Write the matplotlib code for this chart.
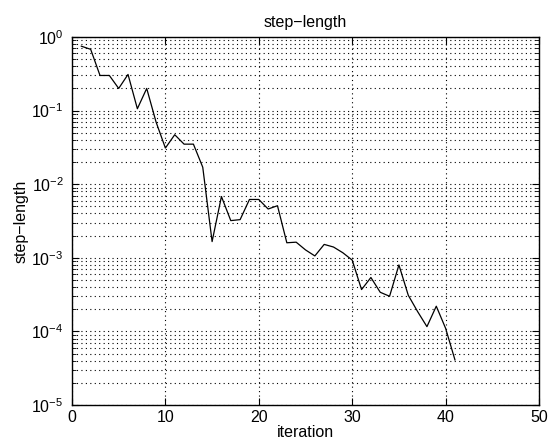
import matplotlib
matplotlib.use("Agg")
import matplotlib.pyplot as plt
from matplotlib.ticker import LogLocator, NullFormatter

iteration = list(range(1, 42))
step_length = [0.75, 0.68, 0.30, 0.30, 0.20, 0.31, 0.106, 0.20, 0.07, 0.031,
               0.047, 0.035, 0.035, 0.017, 0.00166, 0.0068, 0.0032, 0.0033, 0.0062, 0.0062,
               0.0046, 0.0051, 0.0016, 0.00163, 0.00128, 0.00106, 0.00152, 0.0014, 0.00117, 0.00093,
               0.00037, 0.00054, 0.00034, 0.00030, 0.00080, 0.00031, 0.000186, 0.000116, 0.00022, 0.00011,
               0.000041]
xticks = [0, 10, 20, 30, 40, 50]

plt.rcParams['font.family'] = ['Liberation Sans', 'DejaVu Sans']
plt.rcParams['mathtext.fontset'] = 'custom'
plt.rcParams['mathtext.rm'] = 'Liberation Sans'

fig = plt.figure(figsize=(5.58, 4.43), dpi=100)
ax = fig.add_axes([0.129, 0.0858, 0.837, 0.8307])
ax.plot(iteration, step_length, color='black', lw=0.9)
ax.set_yscale('log')
ax.set_xlim(0, 50)
ax.set_ylim(1e-5, 1)
ax.set_xticks(xticks)
ax.yaxis.set_major_locator(LogLocator(base=10, numticks=10))
ax.yaxis.set_minor_locator(LogLocator(base=10, subs=range(2, 10), numticks=20))
ax.yaxis.set_minor_formatter(NullFormatter())

dot = (0, (1, 3))
ax.grid(True, which='major', axis='both', color='black', linestyle=dot, lw=0.8)
ax.grid(True, which='minor', axis='y', color='black', linestyle=dot, lw=0.8)

ax.tick_params(which='both', direction='in', top=True, right=True, labelsize=11.5)
ax.tick_params(axis='y', which='major', pad=6)
ax.tick_params(which='major', length=5)
ax.tick_params(which='minor', length=3)
for s in ax.spines.values():
    s.set_linewidth(1.0)

ax.set_title('step\u2212length', fontsize=11.5, pad=7)
ax.set_xlabel('iteration', fontsize=11.5, labelpad=0)
ax.set_ylabel('step\u2212length', fontsize=11.5, labelpad=2)

fig.savefig('out.png', dpi=100)
